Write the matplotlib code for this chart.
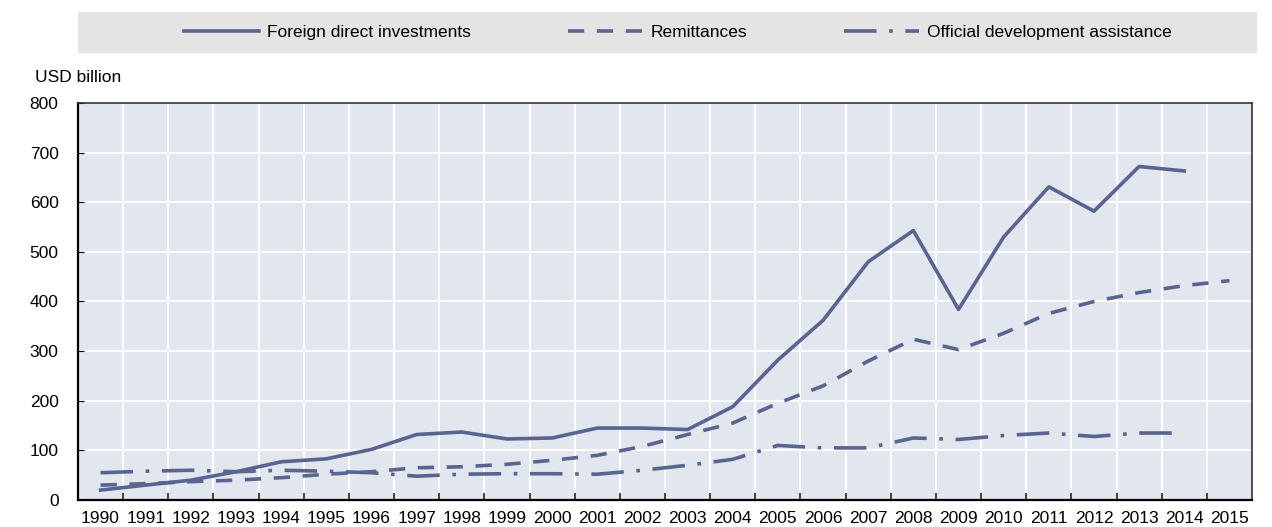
import matplotlib.pyplot as plt
from matplotlib.patches import Rectangle
from matplotlib.ticker import MultipleLocator, FixedLocator

plt.rcParams['font.family'] = ['Liberation Sans', 'DejaVu Sans']

years = [str(y) for y in range(1990, 2016)]
fdi = [20, 30, 40, 57, 77, 83, 102, 132, 137, 123, 125, 145, 145, 142, 188,
       282, 362, 480, 543, 384, 530, 631, 582, 672, 663]
remit = [30, 33, 37, 40, 45, 52, 57, 65, 67, 72, 80, 90, 108, 132, 155,
         195, 230, 280, 324, 303, 336, 376, 400, 418, 432, 442]
oda = [55, 58, 60, 57, 60, 58, 55, 48, 52, 53, 53, 52, 60, 70, 82,
       110, 105, 105, 125, 122, 130, 135, 128, 135, 135]

col = '#59648f'
fig = plt.figure(figsize=(12.72, 5.27), dpi=100)
ax = fig.add_axes([0.0613, 0.0512, 0.9230, 0.7534])
ax.set_facecolor('#e2e6ef')

ax.plot(range(len(fdi)), fdi, color=col, lw=2.6, label='Foreign direct investments')
ax.plot(range(len(remit)), remit, color=col, lw=2.6, dashes=(4.5, 3.5), label='Remittances')
ax.plot(range(len(oda)), oda, color=col, lw=2.6, dashes=(9, 3.5, 1, 3.5),
        label='Official development assistance')

ax.set_xlim(-0.5, len(years) - 0.5)
ax.set_ylim(0, 800)
ax.yaxis.set_major_locator(MultipleLocator(100))
ax.set_xticks(range(len(years)))
ax.set_xticklabels(years)
ax.xaxis.set_minor_locator(FixedLocator([i + 0.5 for i in range(len(years) - 1)]))
ax.tick_params(axis='x', which='major', length=0, labelsize=12.5, pad=8)
ax.tick_params(axis='x', which='minor', direction='in', length=5, width=1.2, color='#222222')
ax.tick_params(axis='y', direction='in', length=4, labelsize=12.5, pad=14)
ax.grid(True, which='minor', axis='x', color='white', lw=1.3)
ax.grid(True, which='major', axis='y', color='white', lw=1.3)
ax.set_axisbelow(True)
for s in ['top', 'right']:
    ax.spines[s].set_color('#333333')
    ax.spines[s].set_linewidth(1.2)
for s in ['left', 'bottom']:
    ax.spines[s].set_color('black')
    ax.spines[s].set_linewidth(1.6)

fig.text(0.0275, 0.852, 'USD billion', fontsize=12.5, ha='left', va='center')

# legend box
fig.patches.append(Rectangle((0.0613, 0.900), 0.927, 0.077, transform=fig.transFigure,
                             facecolor='#e4e4e4', edgecolor='none', zorder=0))
h, l = ax.get_legend_handles_labels()
fig.legend(h, l, loc='center', bbox_to_anchor=(0.533, 0.938), ncol=3, frameon=False,
           fontsize=12.5, handlelength=4.3, handletextpad=0.45, columnspacing=5.6)

fig.savefig('out.png', dpi=100)
